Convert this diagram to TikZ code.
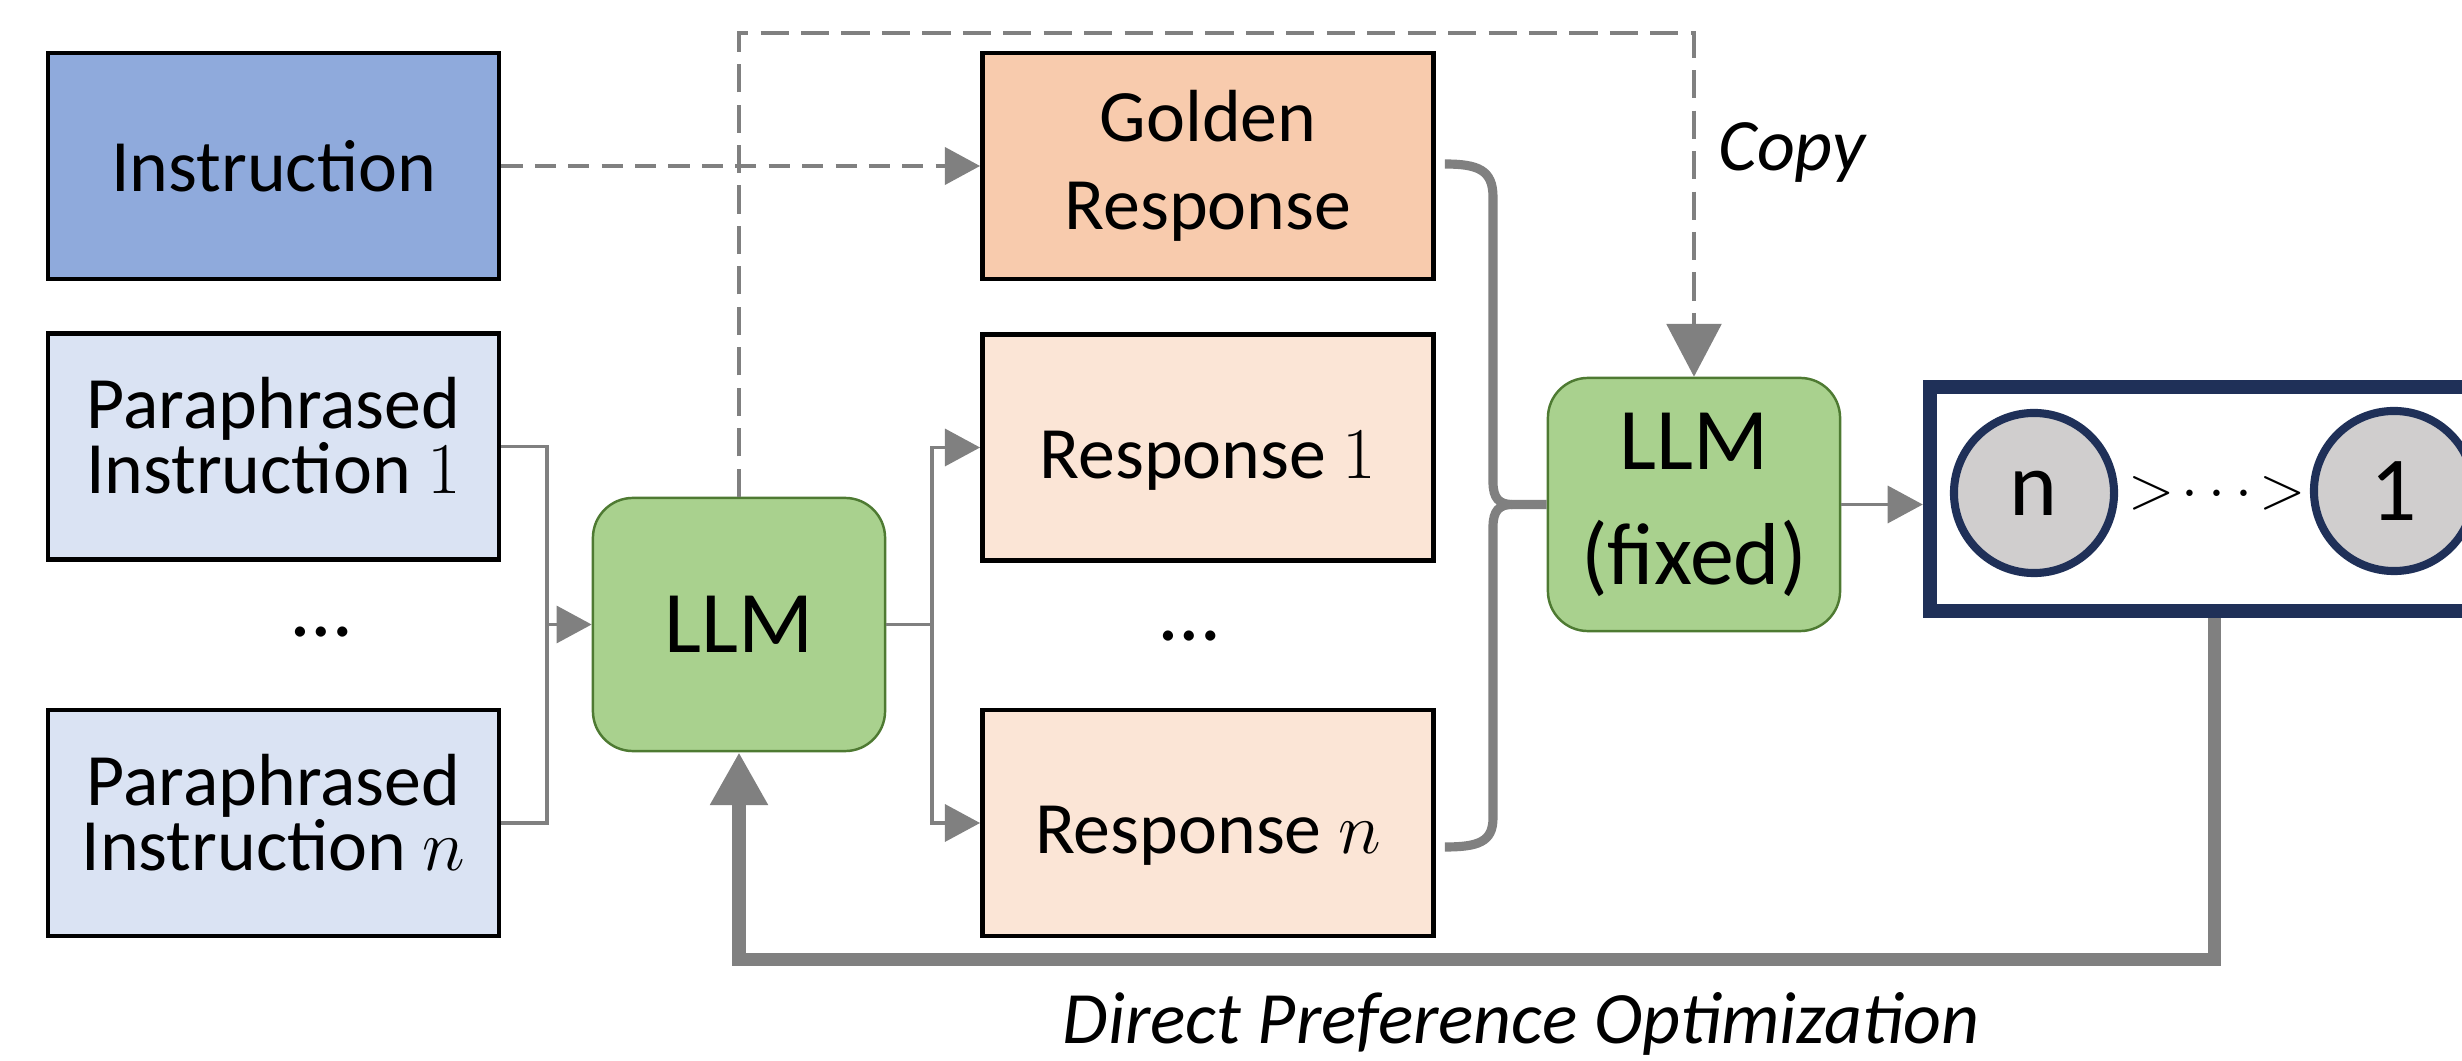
\documentclass[tikz,border=0pt]{standalone}
\usepackage{fontspec}
\setmainfont{Carlito}
\usetikzlibrary{arrows.meta,calc}

\definecolor{instfill}{HTML}{8FAADC}
\definecolor{parafill}{HTML}{DAE3F3}
\definecolor{goldfill}{HTML}{F8CBAD}
\definecolor{respfill}{HTML}{FBE5D6}
\definecolor{llmfill}{HTML}{A9D18E}
\definecolor{llmdraw}{HTML}{4E7A32}
\definecolor{navy}{HTML}{1F3058}
\definecolor{circfill}{HTML}{D0CECE}
\definecolor{linegray}{HTML}{808080}

\newcommand{\fs}[2]{\fontsize{#1}{#2}\selectfont\lineskiplimit=-30pt}

\begin{document}
\begin{tikzpicture}[x=0.01cm,y=-0.01cm,
  textbox/.style={draw=black,line width=1.3pt,minimum width=4.51cm,
    minimum height=2.26cm,align=center,inner sep=0pt},
  twoline/.style={text depth=6.1pt},
  oneline/.style={text height=17.4pt,text depth=0pt},
  llmbox/.style={draw=llmdraw,fill=llmfill,line width=0.7pt,
    rounded corners=0.4cm,minimum width=2.92cm,minimum height=2.53cm,
    align=center,inner sep=0pt},
  rankcirc/.style={circle,draw=navy,fill=circfill,line width=2.3pt,
    minimum size=1.6cm,inner sep=0pt,font=\fs{26}{30}},
  conn/.style={draw=linegray,line width=1.1pt},
  dashconn/.style={draw=linegray,line width=1.2pt,dash pattern=on 6pt off 3.5pt},
  loopconn/.style={draw=linegray,line width=1.1pt,dash pattern=on 8pt off 3.5pt},
  braceline/.style={draw=linegray,line width=2.6pt},
  feedback/.style={draw=linegray,line width=3.7pt},
  smalltip/.style={-{Triangle[length=10pt,width=10.5pt]}},
  bigtip/.style={-{Triangle[length=15pt,width=15.5pt]}}
]
\clip (0,0) rectangle (2462,1061);

% inputs
\node[textbox,fill=instfill,font=\fs{21}{25}] (inst) at (273.5,166) {Instruction};
\node[textbox,twoline,fill=parafill,font=\fs{21}{18.5}] (para1) at (273.5,446.5) {Paraphrased\\Instruction $1$};
\node[anchor=base,font=\fs{24}{28}] (ldots) at (322,637) {…};
\node[textbox,twoline,fill=parafill,font=\fs{21}{18.5}] (paran) at (273.5,823) {Paraphrased\\Instruction $n$};

% policy model
\node[llmbox,font=\fs{25}{30}] (llm) at (739,624.5) {LLM};

% responses
\node[textbox,fill=goldfill,font=\fs{21}{25}] (gold) at (1208,166) {Golden\\Response};
\node[textbox,oneline,fill=respfill,font=\fs{21}{25}] (resp1) at (1208,447.5) {Response $1$};
\node[anchor=base,font=\fs{24}{28}] (rdots) at (1190,641) {…};
\node[textbox,oneline,fill=respfill,font=\fs{21}{25}] (respn) at (1208,823) {Response $n$};

% frozen judge model
\node[llmbox,font=\fs{25}{32.7}] (llmf) at (1694,504.5) {LLM\\(fixed)};

% ranking
\node[draw=navy,line width=4pt,minimum width=5.68cm,minimum height=2.24cm,inner sep=0pt] (rank) at (2214,499) {};
\node[rankcirc] (cn) at (2034,493) {n};
\node[rankcirc] (c1) at (2394,491) {1};
\node[font=\fs{17}{20},inner sep=0pt] (gt) at (2217,493) {$\mathord{>}\mkern-1mu\cdots\mkern-1mu\mathord{>}$};

% labels
\node[font=\fs{21}{25}\itshape] (copy) at (1792,152) {Copy};
\node[font=\fs{21}{25}\itshape] (dpo) at (1521,1024) {Direct Preference Optimization};

% instruction to golden response
\draw[dashconn,smalltip] (inst.east) -- (gold.west);

% copy of the policy into the judge
\coordinate (looptop) at (1000,33);
\draw[loopconn,bigtip] (llm.north) |- (looptop) -| (llmf.north);

% paraphrased instructions into the LLM
\coordinate (inmerge) at (547,624.5);
\draw[conn] (para1.east) -| (inmerge);
\draw[conn] (paran.east) -| (inmerge);
\draw[conn,smalltip] (inmerge) -- (llm.west);

% sampled responses
\coordinate (outsplit) at (932,624.5);
\draw[conn] (llm.east) -- (outsplit);
\draw[conn,smalltip] (outsplit) |- (resp1.west);
\draw[conn,smalltip] (outsplit) |- (respn.west);

% brace gathering the responses
\coordinate (bt) at ($(gold.east)+(9,-2)$);
\coordinate (bb) at ($(respn.east)+(9,24)$);
\coordinate (bpinch) at (1512,504.5);
\draw[braceline] (bt) .. controls (1478,164) and (1493,170) .. (1493,197)
  -- (1493,482) .. controls (1493,498) and (1499,504.5) .. (bpinch) -- (llmf.west);
\draw[braceline] (bpinch) .. controls (1499,504.5) and (1493,511) .. (1493,527)
  -- (1493,818) .. controls (1493,842) and (1478,847) .. (bb);

% judge to ranking
\draw[conn,smalltip] (llmf.east) -- (llmf.east -| rank.west);

% preference feedback
\draw[feedback,bigtip] (rank.south) -- ++(0,341) -| (llm.south);
\end{tikzpicture}
\end{document}
